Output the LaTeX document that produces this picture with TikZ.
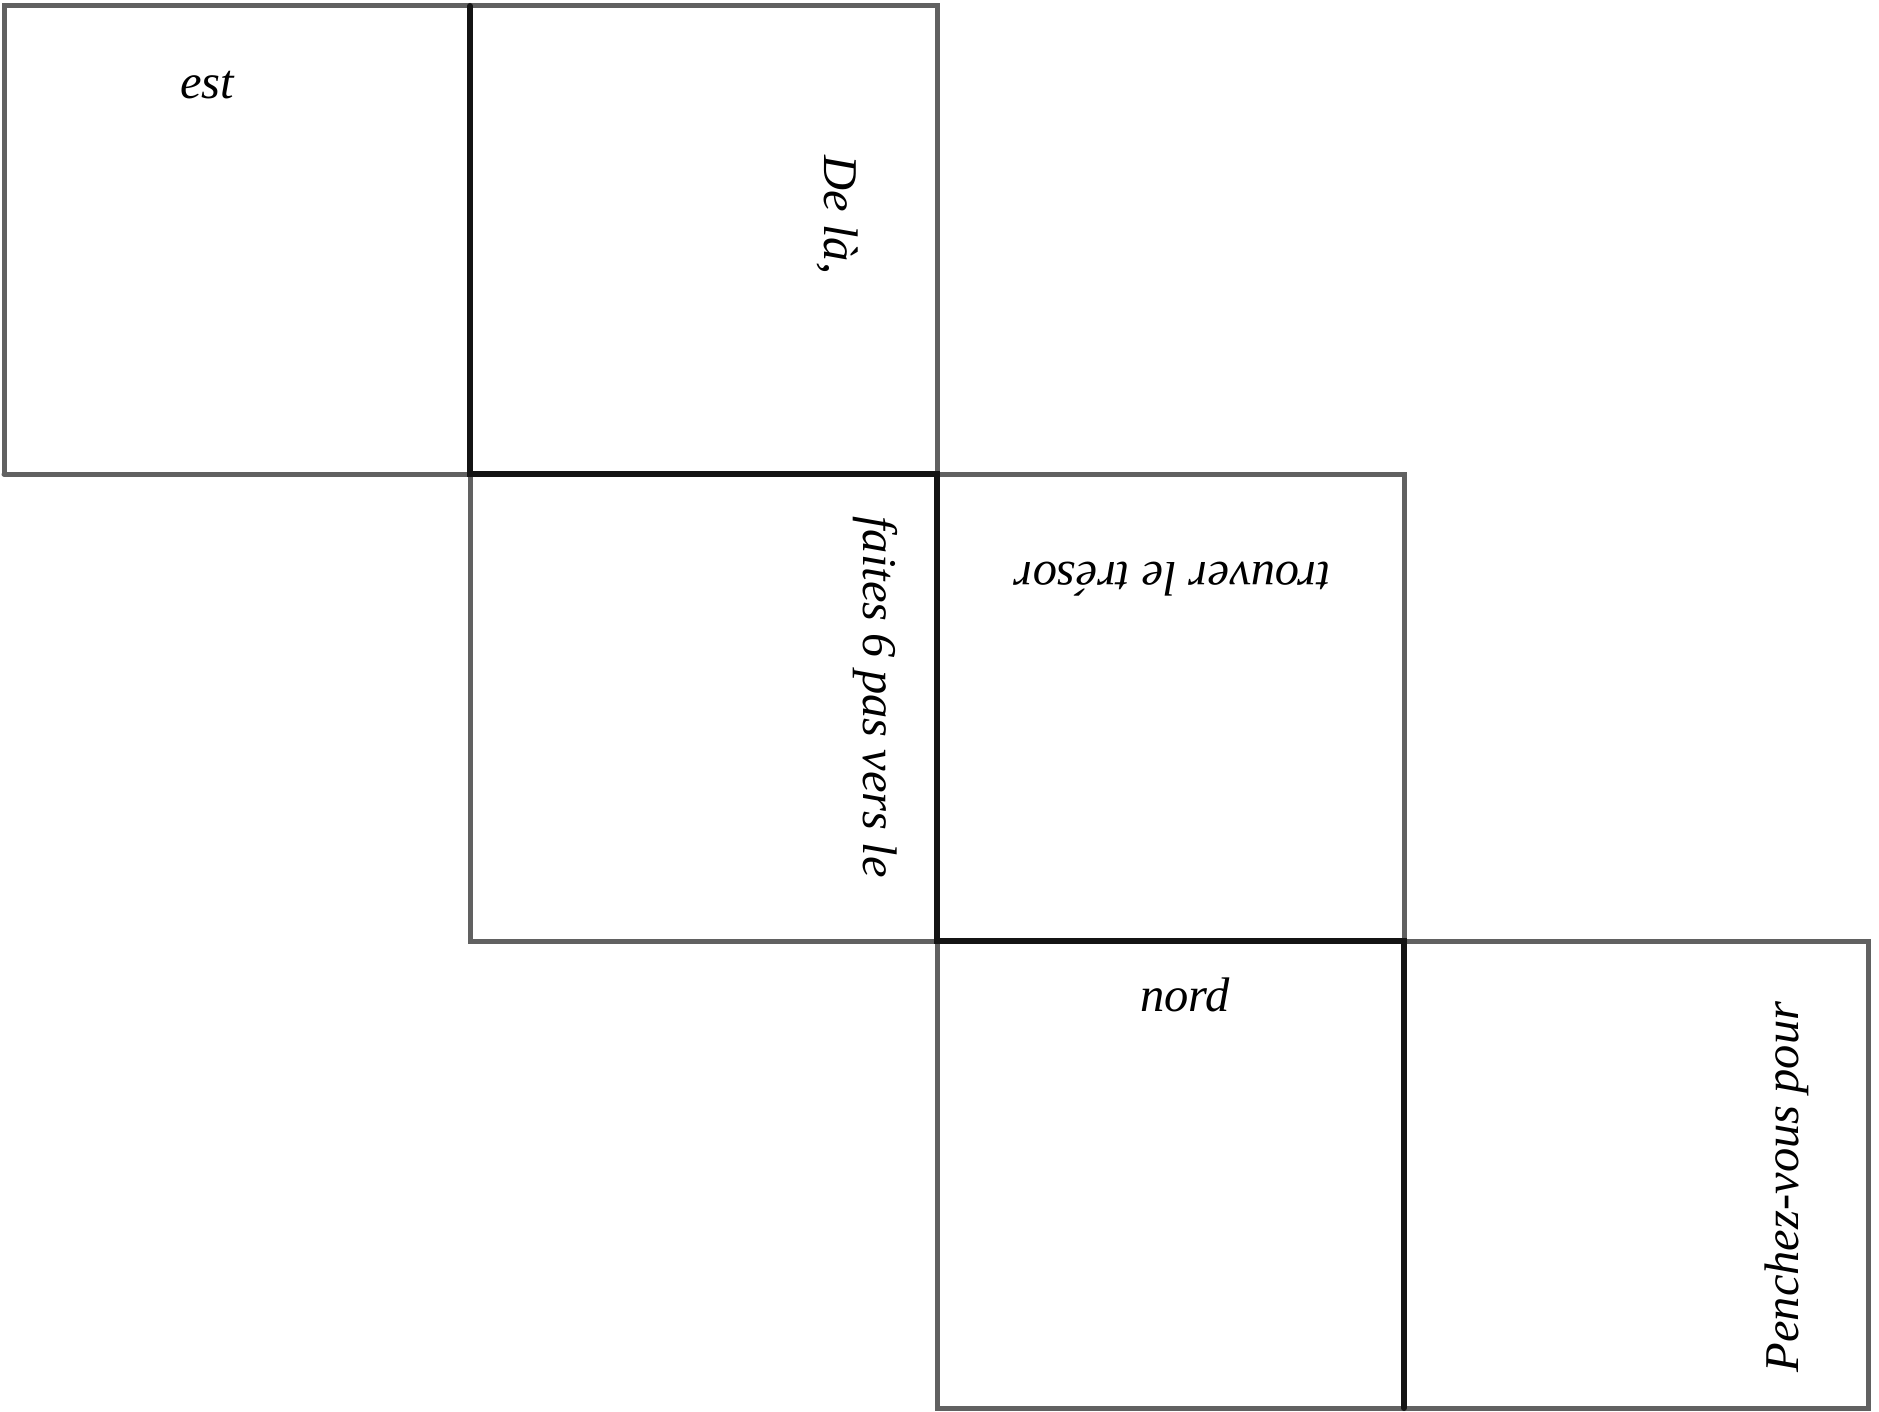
\documentclass[tikz,border=0pt]{standalone}
\usepackage{fontspec}
\setmainfont{Liberation Serif}
\begin{document}
\begin{tikzpicture}[x=1pt,y=-1pt,
  edge/.style={draw=black!62, line width=5pt, line cap=round},
  fold/.style={draw=black!92, line width=6pt, line cap=round},
  lbl/.style={font=\fontsize{48.5}{58}\selectfont\itshape, inner sep=0pt}]
\useasboundingbox (0,0) rectangle (1879,1412);
% grid coordinates
\coordinate (a0) at (4,6);    \coordinate (a1) at (470,6);   \coordinate (a2) at (937,6);
\coordinate (b0) at (4,474);  \coordinate (b1) at (470,474); \coordinate (b2) at (937,474); \coordinate (b3) at (1404,474);
\coordinate (c1) at (470,941); \coordinate (c2) at (937,941); \coordinate (c3) at (1404,941); \coordinate (c4) at (1868,941);
\coordinate (d2) at (937,1408); \coordinate (d3) at (1404,1408); \coordinate (d4) at (1868,1408);
% outer edges
\draw[edge] (b0) -- (a0) -- (a2) -- (b2);
\draw[edge] (b0) -- (b1);
\draw[edge] (b2) -- (b3) -- (c3);
\draw[edge] (b1) -- (c1) -- (c2);
\draw[edge] (c3) -- (c4) -- (d4) -- (d2) -- (c2);
% fold lines
\draw[fold] (a1) -- (b1) -- (b2) -- (c2) -- (c3) -- (d3);
% labels
\node[lbl, anchor=base] (est) at (207,99) {est};
\node[lbl, anchor=base, rotate=-90] (dela) at (824,215) {De là,};
\node[lbl, anchor=base, rotate=-90] (faites) at (863,697) {faites 6 pas vers le};
\node[lbl, anchor=base, rotate=180] (tresor) at (1172,562) {trouver le trésor};
\node[lbl, anchor=base] (nord) at (1185,1011) {nord};
\node[lbl, anchor=base, rotate=90] (pench) at (1798,1187) {Penchez-vous pour};
\end{tikzpicture}
\end{document}
